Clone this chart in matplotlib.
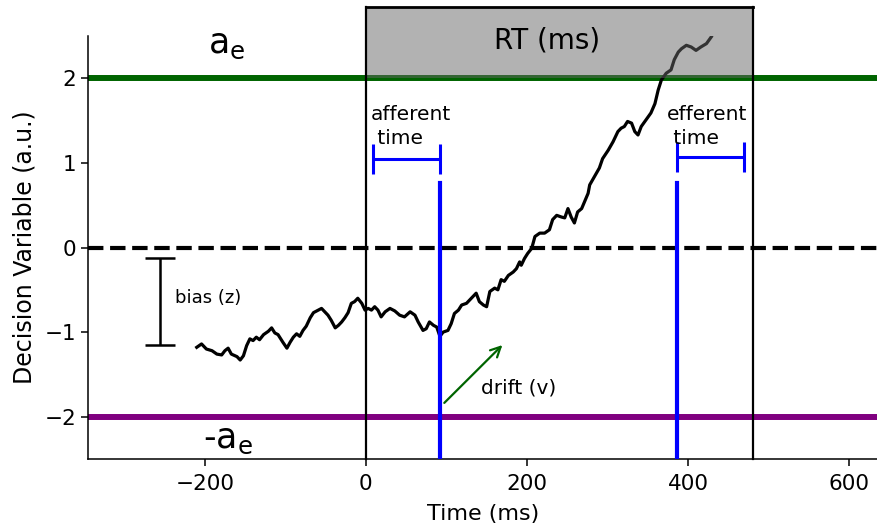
from matplotlib import pyplot as plt

# decision variable trace
t_ms = [-210, -204, -198, -191, -185, -179, -175, -171, -167, -160, -156, -152, -148, -144,
        -140, -136, -132, -127, -121, -117, -113, -109, -103, -98, -94, -90, -86, -82, -78,
        -74, -69, -65, -59, -55, -51, -47, -43, -38, -34, -30, -26, -22, -18, -14, -10, -5,
        -1, 3, 7, 11, 15, 19, 24, 30, 36, 42, 48, 55, 61, 65, 71, 75, 79, 84, 88, 92, 96,
        102, 106, 110, 115, 119, 125, 131, 137, 141, 146, 150, 154, 160, 164, 168, 172, 177,
        183, 187, 191, 193, 197, 201, 206, 210, 216, 222, 228, 232, 237, 243, 247, 251, 255,
        259, 263, 268, 272, 276, 278, 284, 290, 294, 301, 307, 313, 317, 321, 325, 330, 334,
        338, 342, 348, 354, 359, 363, 367, 373, 379, 383, 388, 392, 398, 404, 410, 416, 423,
        429]
dv = [-1.18, -1.14, -1.20, -1.22, -1.26, -1.27, -1.22, -1.19, -1.26, -1.29, -1.33, -1.28,
      -1.16, -1.08, -1.10, -1.06, -1.09, -1.03, -0.99, -0.95, -1.01, -1.03, -1.12, -1.19,
      -1.12, -1.06, -1.02, -1.05, -0.98, -0.93, -0.83, -0.77, -0.74, -0.72, -0.76, -0.80,
      -0.86, -0.95, -0.92, -0.88, -0.83, -0.77, -0.66, -0.64, -0.60, -0.66, -0.74, -0.72,
      -0.74, -0.70, -0.74, -0.82, -0.76, -0.72, -0.75, -0.80, -0.82, -0.76, -0.80, -0.88,
      -0.98, -0.96, -0.88, -0.92, -0.94, -1.05, -1.00, -0.98, -0.90, -0.78, -0.74, -0.68,
      -0.66, -0.60, -0.54, -0.64, -0.68, -0.70, -0.52, -0.48, -0.50, -0.38, -0.40, -0.33,
      -0.29, -0.25, -0.17, -0.21, -0.13, -0.07, -0.01, 0.13, 0.17, 0.17, 0.21, 0.33, 0.38,
      0.36, 0.35, 0.46, 0.36, 0.29, 0.42, 0.46, 0.55, 0.64, 0.74, 0.84, 0.94, 1.05, 1.15,
      1.25, 1.37, 1.41, 1.43, 1.49, 1.47, 1.37, 1.33, 1.43, 1.51, 1.59, 1.70, 1.86, 1.98,
      2.06, 2.10, 2.22, 2.31, 2.35, 2.39, 2.37, 2.33, 2.37, 2.41, 2.49]

bound = 2.0
rt = 481
afferent = 92
efferent_start = 386
efferent_end = 469
bias_top = -0.12
bias_bottom = -1.15


def main():
    fig = plt.figure(figsize=(8.78, 5.29), dpi=100)
    ax = fig.add_axes([88 / 878, 70 / 529, 790 / 878, 423 / 529])

    ax.plot(t_ms, dv, color='black', lw=2.3, zorder=3)

    ax.axhline(bound, color='darkgreen', lw=4.3, zorder=2)
    ax.axhline(-bound, color='purple', lw=4.3, zorder=2)
    ax.axhline(0, color='black', lw=3, ls='--', zorder=2)

    # RT box
    box_top = 2.84
    ax.fill_between([0, rt], bound, box_top, color='#666666', alpha=0.5, lw=0,
                    zorder=4, clip_on=False)
    ax.plot([0, 0], [-2.5, box_top], color='black', lw=1.6, clip_on=False, zorder=5)
    ax.plot([rt, rt], [-2.5, box_top], color='black', lw=1.6, clip_on=False, zorder=5)
    ax.plot([0, rt], [box_top, box_top], color='black', lw=2, clip_on=False, zorder=5)
    ax.text(rt / 2 - 15, 2.45, 'RT (ms)', fontsize=20, ha='center', va='center', zorder=6)

    # afferent / efferent
    ax.plot([afferent, afferent], [-2.5, 0.76], color='blue', lw=3, zorder=4)
    ax.plot([efferent_start, efferent_start], [-2.5, 0.76], color='blue', lw=3, zorder=4)
    ax.errorbar((9 + afferent) / 2, 1.05, xerr=(afferent - 9) / 2, color='blue',
                lw=2.2, capsize=11, capthick=2.2)
    ax.errorbar((efferent_start + efferent_end) / 2, 1.07,
                xerr=(efferent_end - efferent_start) / 2, color='blue',
                lw=2.2, capsize=11, capthick=2.2)
    ax.text(6, 1.43, 'afferent\n time', fontsize=14.5, ha='left', va='center',
            linespacing=1.35)
    ax.text(374, 1.43, 'efferent\n time', fontsize=14.5, ha='left', va='center',
            linespacing=1.35)

    # bias
    ax.errorbar(-255, (bias_top + bias_bottom) / 2, yerr=(bias_top - bias_bottom) / 2,
                color='black', lw=1.8, capsize=11, capthick=1.8)
    ax.text(-237, -0.6, 'bias (z)', fontsize=13, ha='left', va='center')

    # drift
    ax.annotate('', xy=(172, -1.13), xytext=(95, -1.86),
                arrowprops=dict(arrowstyle='->', color='darkgreen', lw=1.6,
                                mutation_scale=18))
    ax.text(143, -1.66, 'drift (v)', fontsize=14.5, ha='left', va='center')

    ax.text(-173, 2.4, r'a$_\mathregular{e}$', fontsize=25, ha='center', va='center')
    ax.text(-171, -2.26, r'-a$_\mathregular{e}$', fontsize=25, ha='center', va='center')

    ax.set_xlim(-345, 636)
    ax.set_ylim(-2.5, 2.5)
    ax.set_xticks([-200, 0, 200, 400, 600])
    ax.set_yticks([-2, -1, 0, 1, 2])
    ax.tick_params(labelsize=15.5, width=1.1, length=5)
    ax.tick_params(axis='x', pad=6)
    ax.spines['top'].set_visible(False)
    ax.spines['right'].set_visible(False)
    ax.spines['left'].set_linewidth(1.1)
    ax.spines['bottom'].set_linewidth(1.1)
    ax.set_xlabel('Time (ms)', fontsize=16, labelpad=7)
    ax.set_ylabel('Decision Variable (a.u.)', fontsize=17, labelpad=6)

    fig.savefig('out.png', dpi=100)


if __name__ == '__main__':
    main()
